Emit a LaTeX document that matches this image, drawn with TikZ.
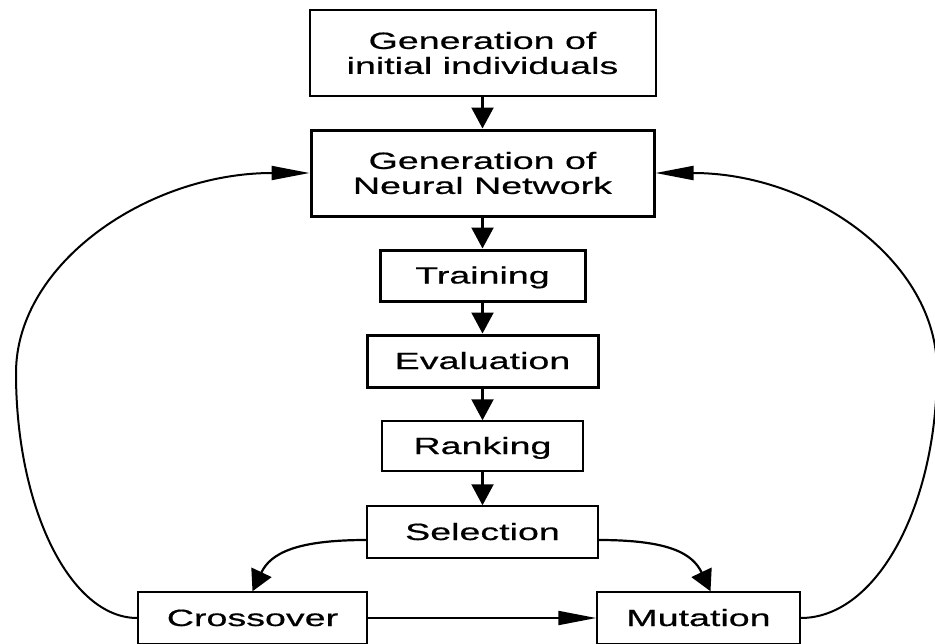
\documentclass[tikz,border=0pt]{standalone}
\usepackage{fontspec}
\setmainfont{Liberation Sans}[FakeStretch=1.6,FakeBold=0.6]
\usetikzlibrary{arrows.meta,positioning}

\begin{document}
\begin{tikzpicture}[x=1pt,y=-1pt,
  box/.style={draw,line width=1.5pt,inner sep=0pt,align=center,
    font=\fontsize{23.5}{25}\selectfont},
  one/.style={box,text height=17pt,text depth=1pt},
  heavy/.style={one,line width=3pt},
  flow/.style={line width=2.2pt,-{Triangle[length=21pt,width=22pt]}},
  sideflow/.style={line width=2pt,-{Triangle[length=38pt,width=14pt]}}]
  \useasboundingbox (0,0) rectangle (935,643);
  % main column
  \node[box,line width=2pt,minimum width=346pt,minimum height=86pt] (init) at (482.5,53) {Generation of\\initial individuals};
  \node[box,line width=3pt,minimum width=343pt,minimum height=86pt] (nn) at (482.5,173) {Generation of\\Neural Network};
  \node[heavy,minimum width=205pt,minimum height=51pt] (train) at (482.5,275.5) {Training};
  \node[heavy,minimum width=231pt,minimum height=52pt] (eval) at (482.5,361) {Evaluation};
  \node[one,minimum width=201pt,minimum height=50pt] (rank) at (482.5,446) {Ranking};
  \node[one,minimum width=231pt,minimum height=52pt] (sel) at (482.5,532) {Selection};
  % operators
  \node[one,minimum width=229pt,minimum height=52pt] (cross) at (252.5,618) {Crossover};
  \node[one,minimum width=203pt,minimum height=52pt] (mut) at (698.5,618) {Mutation};
  \coordinate (lbend) at (16,373);
  \coordinate (rbend) at (937,370);

  \foreach \a/\b in {init/nn,nn/train,train/eval,eval/rank,rank/sel}
    \draw[flow] (\a) -- (\b);
  \draw[flow] ([yshift=-8pt]sel.west) .. controls +(-70,0) and +(18,-38) .. (cross.north);
  \draw[flow] ([yshift=-8pt]sel.east) .. controls +(70,0) and +(-18,-38) .. ([xshift=12pt]mut.north);
  \draw[sideflow] (cross) -- (mut);
  % loops back
  \draw[sideflow] (cross.west) .. controls +(-67,0) and +(0,135) .. (lbend)
    .. controls +(0,-110) and +(-161,0) .. (nn.west);
  \draw[sideflow] (mut.east) .. controls +(76,0) and +(0,136) .. (rbend)
    .. controls +(0,-109) and +(157,0) .. (nn.east);
\end{tikzpicture}
\end{document}
